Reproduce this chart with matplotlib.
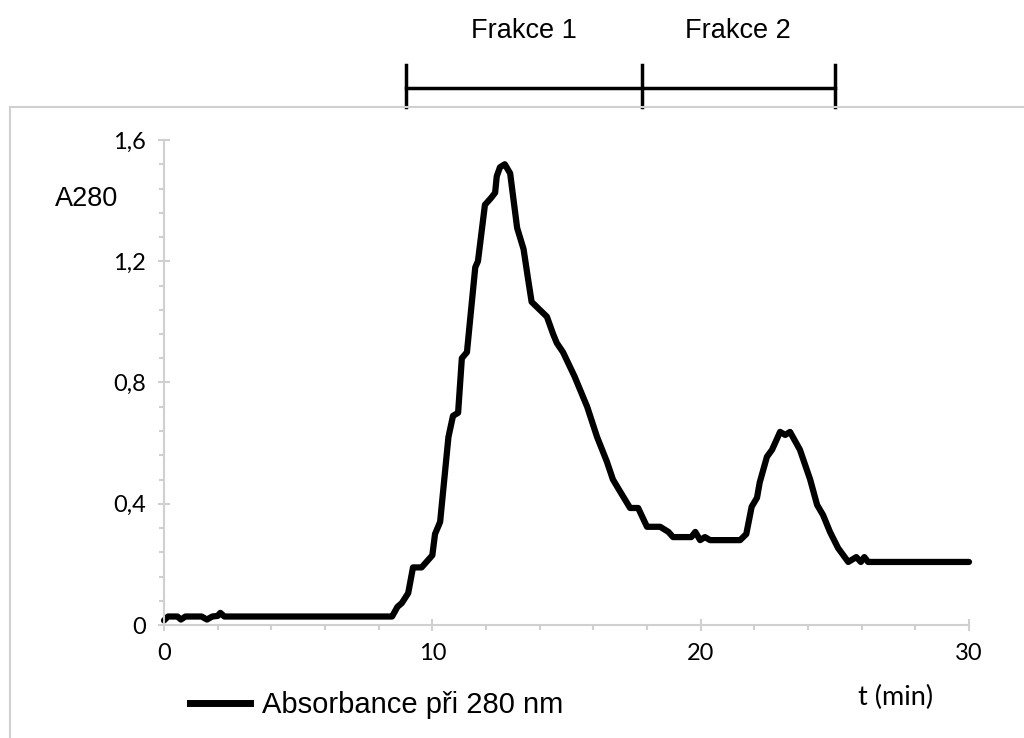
import matplotlib.pyplot as plt
from matplotlib.lines import Line2D
import matplotlib.transforms as mtransforms
from matplotlib.ticker import MultipleLocator, FuncFormatter

# chromatogram trace
t_min = [0, 0.15, 0.3, 0.5, 0.63, 0.8, 1.0, 1.4, 1.6, 1.8, 2.0, 2.1, 2.25,
         8.5, 8.7, 8.86, 9.1, 9.28, 9.6, 10.0, 10.1, 10.29, 10.6, 10.77,
         10.96, 11.1, 11.29, 11.4, 11.6, 11.7, 11.96, 12.2, 12.34, 12.4,
         12.52, 12.7, 12.9, 13.16, 13.4, 13.57, 13.7, 14.27, 14.5, 14.64,
         14.87, 15.3, 15.77, 16.14, 16.5, 16.73, 17.0, 17.37, 17.67, 18.0,
         18.49, 18.8, 18.97, 19.5, 19.65, 19.8, 19.98, 20.16, 20.35, 21.47,
         21.7, 21.9, 22.1, 22.2, 22.47, 22.66, 22.96, 23.15, 23.33, 23.7,
         24.08, 24.34, 24.56, 24.82, 25.12, 25.5, 25.8, 25.97, 26.1, 26.24,
         30.0]
a280 = [0.015, 0.028, 0.028, 0.028, 0.018, 0.028, 0.028, 0.028, 0.018, 0.028,
        0.03, 0.04, 0.028,
        0.028, 0.06, 0.072, 0.105, 0.19, 0.19, 0.23, 0.30, 0.34, 0.62, 0.69,
        0.70, 0.88, 0.90, 1.0, 1.18, 1.2, 1.386, 1.41, 1.426, 1.48,
        1.51, 1.52, 1.49, 1.31, 1.24, 1.14, 1.066, 1.017, 0.96, 0.93,
        0.90, 0.82, 0.72, 0.62, 0.54, 0.48, 0.44, 0.386, 0.386, 0.324,
        0.324, 0.307, 0.29, 0.29, 0.29, 0.307, 0.28, 0.29, 0.28, 0.28,
        0.30, 0.39, 0.42, 0.47, 0.555, 0.578, 0.637, 0.627, 0.637, 0.578,
        0.48, 0.396, 0.363, 0.307, 0.254, 0.208, 0.224, 0.208, 0.224, 0.208,
        0.208]

# fraction boundaries (min) and labels
frac_edges = [9.0, 17.8, 25.0]
frac_labels = ['Frakce 1', 'Frakce 2']

fig = plt.figure(figsize=(10.24, 7.38), dpi=100)
ax = fig.add_axes([164/1024, 1 - 625/738, (969 - 164)/1024, (625 - 140)/738])

ax.plot(t_min, a280, color='black', lw=4.5, solid_joinstyle='round',
        solid_capstyle='round', clip_on=False)

ax.set_xlim(0, 30)
ax.set_ylim(0, 1.6)
ax.xaxis.set_major_locator(MultipleLocator(10))
ax.xaxis.set_minor_locator(MultipleLocator(2))
ax.yaxis.set_major_locator(MultipleLocator(0.4))
ax.yaxis.set_minor_locator(MultipleLocator(0.08))
ax.yaxis.set_major_formatter(FuncFormatter(lambda v, p: ('%g' % round(v, 2)).replace('.', ',')))

gray = '#d0d0d0'
for s in ['top', 'right']:
    ax.spines[s].set_visible(False)
for s in ['left', 'bottom']:
    ax.spines[s].set_color(gray)
    ax.spines[s].set_linewidth(1.5)
ax.tick_params(which='major', direction='inout', length=8.6, width=1.5,
               color=gray, labelsize=17, pad=9)
ax.tick_params(which='minor', direction='out', length=3.6, width=1.5, color=gray)
for lbl in ax.get_xticklabels() + ax.get_yticklabels():
    lbl.set_family('Lato')

# fraction brackets above the plot
trans = mtransforms.blended_transform_factory(ax.transData, ax.transAxes)
ax.plot([frac_edges[0], frac_edges[-1]], [1.107, 1.107], color='black', lw=2.5,
        transform=trans, clip_on=False)
for e in frac_edges:
    ax.plot([e, e], [1.068, 1.155], color='black', lw=2.5, transform=trans,
            clip_on=False)
for i, lab in enumerate(frac_labels):
    mid = (frac_edges[i] + frac_edges[i + 1]) / 2
    ax.text(mid, 1.224, lab, transform=trans, ha='center', va='center',
            fontsize=19.5, family='Liberation Sans')

# outer chart border (only top and left edges visible)
fig.add_artist(Line2D([10/1024, 10/1024], [0, 1 - 107/738], color=gray, lw=1.5))
fig.add_artist(Line2D([10/1024, 1], [1 - 107/738, 1 - 107/738], color=gray, lw=1.5))

fig.text(55/1024, 1 - 199/738, 'A280', fontsize=19.5, family='Liberation Sans',
         ha='left', va='center')
fig.text(896/1024, 1 - 697/738, 't (min)', fontsize=19.5, family='Lato',
         ha='center', va='center')

# legend
fig.add_artist(Line2D([190/1024, 250/1024], [1 - 703/738, 1 - 703/738],
                      color='black', lw=5))
fig.text(262/1024, 1 - 705/738, 'Absorbance při 280 nm', fontsize=21,
         family='Liberation Sans', ha='left', va='center')

fig.savefig('out.png', dpi=100)
